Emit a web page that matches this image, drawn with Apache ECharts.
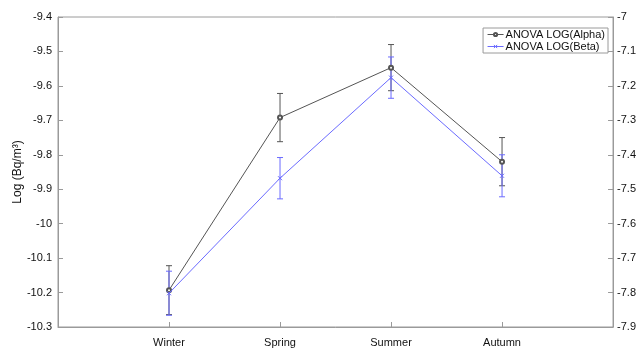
<!DOCTYPE html>
<html><head><meta charset="utf-8">
<script src="https://cdn.jsdelivr.net/npm/echarts@6/dist/echarts.min.js"></script>
<style>html,body{margin:0;padding:0;background:#fff}#c{width:639px;height:349px}</style>
</head><body><div id="c"></div>
<script>
var categories = ['', 'Winter', 'Spring', 'Summer', 'Autumn', ''];
var alphaMean = [null, -10.193, -9.692, -9.547, -9.820, null];
var alphaErr  = [null, 0.071, 0.070, 0.067, 0.070, null];
var betaMean  = [null, -7.802, -7.468, -7.176, -7.461, null];
var betaErr   = [null, 0.064, 0.060, 0.060, 0.061, null];
var leftTicks = {min: -10.3, max: -9.4, interval: 0.1};
var rightTicks = {min: -7.9, max: -7.0, interval: 0.1};

var axisGrey = '#9a9a9a';
var alphaColor = '#555555';
var betaColor = '#6b6bff';

function errData(mean, err){
  var out = [];
  for (var i=0;i<mean.length;i++){ if(mean[i]!==null) out.push([i, mean[i]-err[i], mean[i]+err[i]]); }
  return out;
}
function errRender(color){
  return function(params, api){
    var x = api.value(0);
    var lo = api.coord([x, api.value(1)]);
    var hi = api.coord([x, api.value(2)]);
    var w = 3;
    var st = {stroke: color, lineWidth: 1};
    return {type:'group', children:[
      {type:'line', shape:{x1:lo[0],y1:lo[1],x2:hi[0],y2:hi[1]}, style:st},
      {type:'line', shape:{x1:lo[0]-w,y1:lo[1],x2:lo[0]+w,y2:lo[1]}, style:st},
      {type:'line', shape:{x1:hi[0]-w,y1:hi[1],x2:hi[0]+w,y2:hi[1]}, style:st}
    ]};
  };
}
var fmt = function(v){ return String(parseFloat(Number(v).toFixed(1))); };
var xSym = 'path://M0,0L10,10M10,0L0,10';

var chart = echarts.init(document.getElementById('c'), null, {renderer:'canvas'});
chart.setOption({
  animation: false,
  backgroundColor: '#fff',
  textStyle: {fontFamily: 'Liberation Sans, Arial, sans-serif'},
  grid: {left: 58, right: 25, top: 17, bottom: 22, show: true, borderColor: axisGrey, borderWidth: 1},
  legend: {
    right: 31, top: 28, orient: 'vertical', itemGap: 1, itemWidth: 16, itemHeight: 4,
    backgroundColor: '#fff', borderColor: axisGrey, borderWidth: 1, borderRadius: 0, padding: [1, 3, 1, 4],
    textStyle: {fontSize: 11, color: '#111', padding: [0,0,0,-3]},
    lineStyle: {width: 1},
    itemStyle: {borderWidth: 1},
    data: ['ANOVA LOG(Alpha)', 'ANOVA LOG(Beta)']
  },
  xAxis: {
    type: 'category', data: categories, boundaryGap: false,
    axisLine: {lineStyle: {color: axisGrey}},
    axisTick: {inside: true, length: 5, lineStyle: {color: axisGrey}},
    axisLabel: {fontSize: 11, color: '#111', margin: 10}
  },
  yAxis: [
    {type: 'value', min: leftTicks.min, max: leftTicks.max, interval: leftTicks.interval,
     name: 'Log (Bq/m³)', nameLocation: 'middle', nameGap: 34, nameRotate: 90, nameMoveOverlap: false,
     nameTextStyle: {fontSize: 12, color: '#111'},
     axisLine: {show: true, lineStyle: {color: axisGrey}},
     axisTick: {show: true, inside: true, length: 5, lineStyle: {color: axisGrey}},
     splitLine: {show: false},
     axisLabel: {fontSize: 11, color: '#111', margin: 6, formatter: fmt}},
    {type: 'value', min: rightTicks.min, max: rightTicks.max, interval: rightTicks.interval, position: 'right',
     axisLine: {show: true, lineStyle: {color: axisGrey}},
     axisTick: {show: true, inside: true, length: 5, lineStyle: {color: axisGrey}},
     splitLine: {show: false},
     axisLabel: {fontSize: 11, color: '#111', margin: 4, formatter: fmt}}
  ],
  series: [
    {name: 'ANOVA LOG(Alpha)', type: 'line', yAxisIndex: 0, data: alphaMean, connectNulls: false,
     symbol: 'emptyCircle', symbolSize: 4, color: alphaColor,
     lineStyle: {width: 1, color: alphaColor}, itemStyle: {color: alphaColor, borderColor: alphaColor, borderWidth: 1}, z: 3},
    {name: 'ANOVA LOG(Beta)', type: 'line', yAxisIndex: 1, data: betaMean,
     symbol: xSym, symbolSize: 4, color: betaColor,
     lineStyle: {width: 1, color: betaColor}, itemStyle: {color: betaColor, borderColor: betaColor, borderWidth: 1}, z: 4},
    {type: 'custom', yAxisIndex: 0, data: errData(alphaMean, alphaErr), renderItem: errRender(alphaColor), z: 2, silent: true},
    {type: 'custom', yAxisIndex: 1, data: errData(betaMean, betaErr), renderItem: errRender(betaColor), z: 2, silent: true}
  ]
});
</script></body></html>
